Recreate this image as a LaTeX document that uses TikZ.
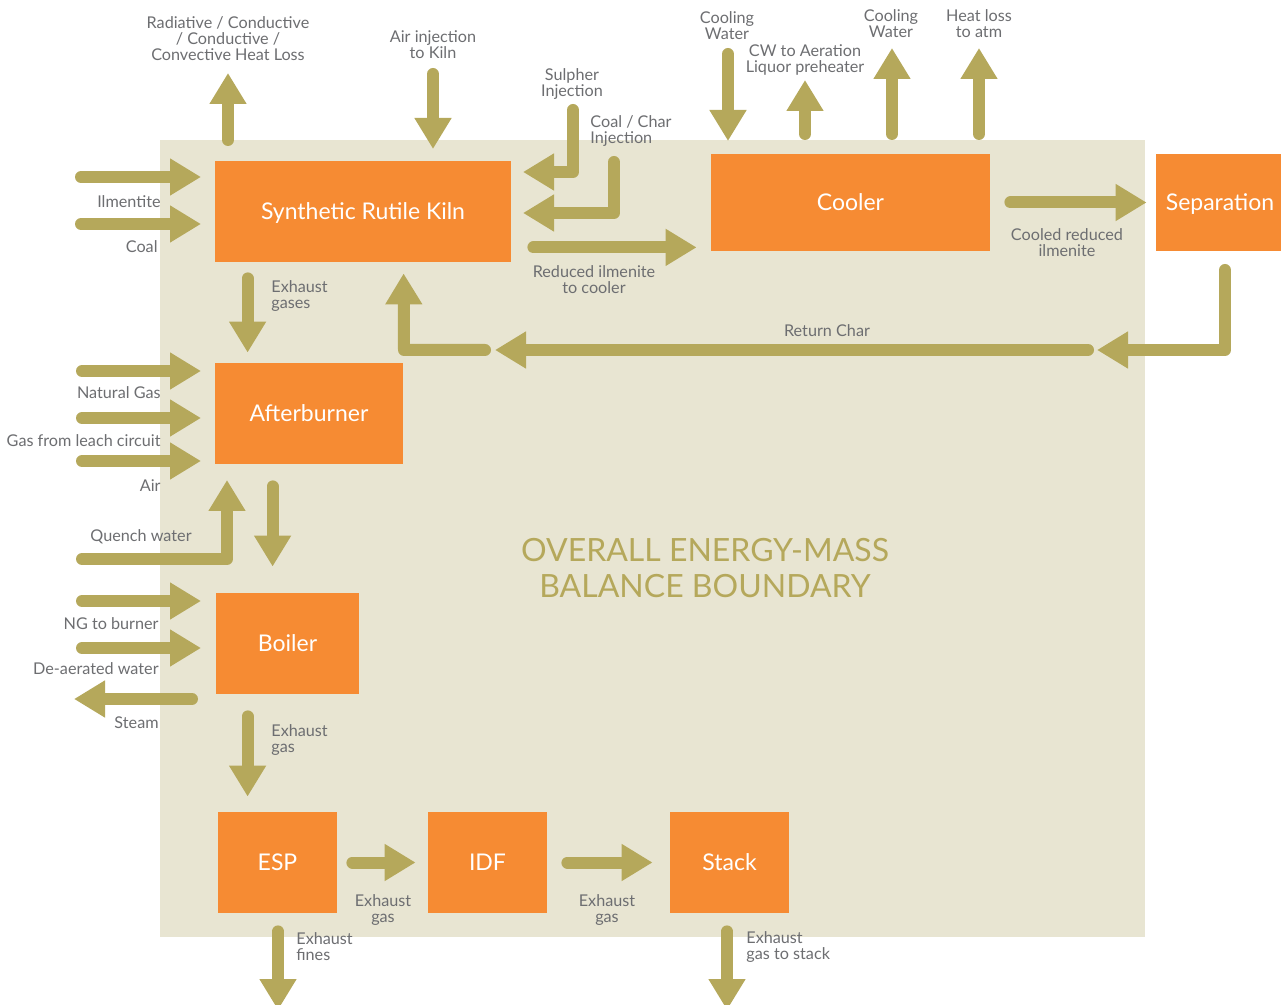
\documentclass[tikz,border=0pt]{standalone}
\usepackage{fontspec}
\setmainfont{Lato}
\usetikzlibrary{arrows.meta,calc}
\definecolor{boxor}{HTML}{F68B33}
\definecolor{flowc}{HTML}{B5A85B}
\definecolor{bgc}{HTML}{E8E5D2}
\definecolor{labc}{HTML}{6D6E71}
\begin{document}
\begin{tikzpicture}[x=0.5pt,y=-0.5pt,
  procbox/.style={fill=boxor,text=white,inner sep=0pt,text height=8.2pt,text depth=0pt,font=\fontsize{11.5}{13}\selectfont},
  flow/.style={draw=flowc,line width=6pt,line cap=round,line join=round,
    -{Triangle[width=17.5pt,length=15.5pt,fill=flowc]}},
  lab/.style={text=labc,font=\fontsize{8.1}{8}\selectfont,align=center,inner sep=0pt},
  labl/.style={lab,align=left},
  big/.style={text=flowc,font=\fontsize{16}{18}\selectfont,align=center,inner sep=0pt}]
\fill[white] (0,0) rectangle (1281,1005);
\useasboundingbox (0,0) rectangle (1281,1005);
\fill[bgc] (160,140) rectangle (1145,937);

% process boxes
\node[procbox,minimum width=148pt,minimum height=50.5pt] (kiln) at (363,211.5) {Synthetic Rutile Kiln};
\node[procbox,minimum width=139.5pt,minimum height=48.5pt] (cooler) at (850.5,202.5) {Cooler};
\node[procbox,minimum width=64pt,minimum height=48.5pt] (sep) at (1220,202.5) {Separation};
\node[procbox,minimum width=94pt,minimum height=50.5pt] (after) at (309,413.5) {Afterburner};
\node[procbox,minimum width=71.5pt,minimum height=50.5pt] (boiler) at (287.5,643.5) {Boiler};
\node[procbox,minimum width=59.5pt,minimum height=50.5pt] (esp) at (277.5,862.5) {ESP};
\node[procbox,minimum width=59.5pt,minimum height=50.5pt] (idf) at (487.5,862.5) {IDF};
\node[procbox,minimum width=59.5pt,minimum height=50.5pt] (stack) at (729.5,862.5) {Stack};

% free ends
\coordinate (hlS) at (228,140); \coordinate (hlE) at (228,73);
\coordinate (aiS) at (433,74);  \coordinate (aiE) at (433,149);
\coordinate (suS) at (573,110); \coordinate (suB) at (573,172); \coordinate (suE) at (523,172);
\coordinate (ccS) at (614,162); \coordinate (ccB) at (614,213); \coordinate (ccE) at (523,213);
\coordinate (ilS) at (81,177);  \coordinate (ilE) at (201,177);
\coordinate (coS) at (81,224);  \coordinate (coE) at (201,224);
\coordinate (cw1S) at (728,54); \coordinate (cw1E) at (728,141);
\coordinate (aeS) at (805,134); \coordinate (aeE) at (805,80);
\coordinate (cw2S) at (892,134); \coordinate (cw2E) at (892,48);
\coordinate (atS) at (979,134); \coordinate (atE) at (979,48);
\coordinate (rc1S) at (1225,270); \coordinate (rc1B) at (1225,350); \coordinate (rc1E) at (1097,350);
\coordinate (rc2S) at (1088,350); \coordinate (rc2E) at (495,350);
\coordinate (rc3S) at (485,350); \coordinate (rc3B) at (404,350);
\coordinate (ngS) at (82,371);  \coordinate (ngE) at (201,371);
\coordinate (glS) at (82,418);  \coordinate (glE) at (201,418);
\coordinate (arS) at (82,461);  \coordinate (arE) at (201,461);
\coordinate (qwS) at (82,559);  \coordinate (qwB) at (227,559); \coordinate (qwE) at (227,480);
\coordinate (nbS) at (82,601);  \coordinate (nbE) at (201,601);
\coordinate (daS) at (82,648);  \coordinate (daE) at (201,648);
\coordinate (stS) at (192,699); \coordinate (stE) at (74,699);
\coordinate (efE) at (278,1010);
\coordinate (egE) at (727,1010);

% kiln streams
\draw[flow] (hlS) -- (hlE);
\draw[flow] (aiS) -- (aiE);
\draw[flow] (suS) -- (suB) -- (suE);
\draw[flow] (ccS) -- (ccB) -- (ccE);
\draw[flow] (ilS) -- (ilE);
\draw[flow] (coS) -- (coE);
\draw[flow] ($(kiln.south east)+(22,-15)$) -- ($(cooler.south west)+(-14,-4)$);
\draw[flow] ($(kiln.south west)+(33,16)$) -- ($(after.north west)+(33,-10)$);
% cooler streams
\draw[flow] (cw1S) -- (cw1E);
\draw[flow] (aeS) -- (aeE);
\draw[flow] (cw2S) -- (cw2E);
\draw[flow] (atS) -- (atE);
\draw[flow] ($(cooler.east)+(20,0)$) -- ($(sep.west)+(-9,0)$);
% return char
\draw[flow] (rc1S) -- (rc1B) -- (rc1E);
\draw[flow] (rc2S) -- (rc2E);
\draw[flow] (rc3S) -- (rc3B) -- ($(kiln.south west)+(189,11)$);
% afterburner streams
\draw[flow] (ngS) -- (ngE);
\draw[flow] (glS) -- (glE);
\draw[flow] (arS) -- (arE);
\draw[flow] (qwS) -- (qwB) -- (qwE);
\draw[flow] ($(after.south west)+(58,22)$) -- ($(boiler.north west)+(57,-26)$);
% boiler streams
\draw[flow] (nbS) -- (nbE);
\draw[flow] (daS) -- (daE);
\draw[flow] (stS) -- (stE);
\draw[flow] ($(boiler.south west)+(32,22)$) -- ($(esp.north west)+(30,-15)$);
% gas train
\draw[flow] ($(esp.east)+(15,0)$) -- ($(idf.west)+(-12,0)$);
\draw[flow] ($(idf.east)+(20,0)$) -- ($(stack.west)+(-17,0)$);
\draw[flow] ($(esp.south)+(0.5,18)$) -- (efE);
\draw[flow] ($(stack.south)+(-2.5,18)$) -- (egE);

% labels
\node[lab] (lhl) at (228,39) {Radiative / Conductive\\/ Conductive /\\Convective Heat Loss};
\node[lab] (lai) at (433,45) {Air injection\\to Kiln};
\node[lab] (lsu) at (572,84) {Sulpher\\Injection};
\node[labl,anchor=west] (lcc) at (590,131) {Coal / Char\\Injection};
\node[lab,anchor=east] (lil) at (161,202) {Ilmentite};
\node[lab,anchor=east] (lco) at (158,247) {Coal};
\node[labl,anchor=west] (leg1) at (271,296) {Exhaust\\gases};
\node[lab] (lri) at (594,280) {Reduced ilmenite\\to cooler};
\node[lab] (lcw1) at (727,26) {Cooling\\Water};
\node[lab] (lae) at (805,60) {CW to Aeration\\Liquor preheater};
\node[lab] (lcw2) at (891,24) {Cooling\\Water};
\node[lab] (lat) at (979,24) {Heat loss\\to atm};
\node[lab] (lcr) at (1067,243) {Cooled reduced\\ilmenite};
\node[lab] (lrc) at (827,331) {Return Char};
\node[lab,anchor=east] (lng) at (161,393) {Natural Gas};
\node[lab,anchor=east] (lgl) at (161,441) {Gas from leach circuit};
\node[lab,anchor=east] (lar) at (161,486) {Air};
\node[lab,anchor=east] (lqw) at (192,537) {Quench water};
\node[lab,anchor=east] (lnb) at (159,624) {NG to burner};
\node[lab,anchor=east] (lda) at (159,669) {De-aerated water};
\node[lab,anchor=east] (lst) at (159,723) {Steam};
\node[labl,anchor=west] (leg2) at (271,740) {Exhaust\\gas};
\node[lab] (leg3) at (383,910) {Exhaust\\gas};
\node[lab] (leg4) at (607,910) {Exhaust\\gas};
\node[labl,anchor=west] (lef) at (296,947) {Exhaust\\fines};
\node[labl,anchor=west] (lgs) at (746,947) {Exhaust\\gas to stack};
\node[big] (title) at (705,568) {OVERALL ENERGY-MASS\\BALANCE BOUNDARY};
\end{tikzpicture}
\end{document}
